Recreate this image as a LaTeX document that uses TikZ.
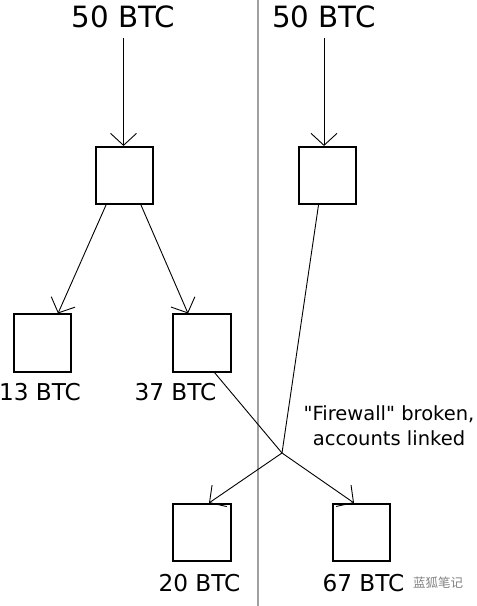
\documentclass[tikz,border=0pt]{standalone}
\usepackage{fontspec}
\setmainfont{DejaVu Sans}[Ligatures=TeXOff]
\newfontfamily\cjk{Noto Sans CJK SC}
\usetikzlibrary{arrows.meta,calc}
\definecolor{divider}{RGB}{160,160,160}
\definecolor{wmgray}{RGB}{130,130,130}
\begin{document}
\begin{tikzpicture}[x=1pt,y=-1pt,
  box/.style={draw,line width=1.6pt,minimum size=57.5pt,inner sep=0pt},
  conn/.style={draw,line width=0.9pt,-{Straight Barb[length=12pt,width=26pt,line width=0.9pt]}},
  plain/.style={draw,line width=0.9pt},
  big/.style={inner sep=0pt,font=\fontsize{29.3}{34}\selectfont},
  mid/.style={inner sep=0pt,font=\fontsize{23.2}{27}\selectfont},
  note/.style={inner sep=0pt,align=center,font=\fontsize{19.5}{25}\selectfont},
  watermark/.style={inner sep=0pt,text=wmgray,font=\cjk\fontsize{12.5}{14}\selectfont},
]
\useasboundingbox (0,0) rectangle (477,606);
\fill[white] (0,0) rectangle (477,606);
\draw[line width=2pt,divider] (258,0) coordinate (wt) -- (258,606) coordinate (wb);

\node[big] (L1) at (123.5,17) {50 BTC};
\node[big] (L2) at (324,17) {50 BTC};
\node[box] (A) at (124.5,175.5) {};
\node[box] (B) at (327.5,175.5) {};
\node[box] (C) at (42.5,343) {};
\node[box] (D) at (202,343) {};
\node[box] (E) at (202,532.5) {};
\node[box] (F) at (361.5,532.5) {};
\node[mid] (tC) at (40,392) {13 BTC};
\node[mid] (tD) at (175.5,392) {37 BTC};
\node[mid] (tE) at (199.5,583) {20 BTC};
\node[mid] (tF) at (363.5,583) {67 BTC};
\node[note] (fw) at (389,425.5) {"Firewall" broken,\\accounts linked};
\node[watermark] (wm) at (438,583) {蓝狐笔记};
\coordinate (J) at (282,453);

\draw[conn] ([yshift=-10pt]L1.south) -- (L1.south |- A.north);
\draw[conn] ([yshift=-10pt]L2.south) -- (L2.south |- B.north);
\draw[conn] ([xshift=-18.5pt]A.south) -- ([xshift=15.5pt]C.north);
\draw[conn] ([xshift=16.5pt]A.south) -- ([xshift=-14pt]D.north);
\draw[plain] ([xshift=12.5pt]D.south) -- (J);
\draw[plain] ([xshift=-9pt]B.south) -- (J);
\draw[conn] (J) -- ([xshift=7pt]E.north);
\draw[conn] (J) -- ([xshift=-7.5pt]F.north);
\end{tikzpicture}
\end{document}
